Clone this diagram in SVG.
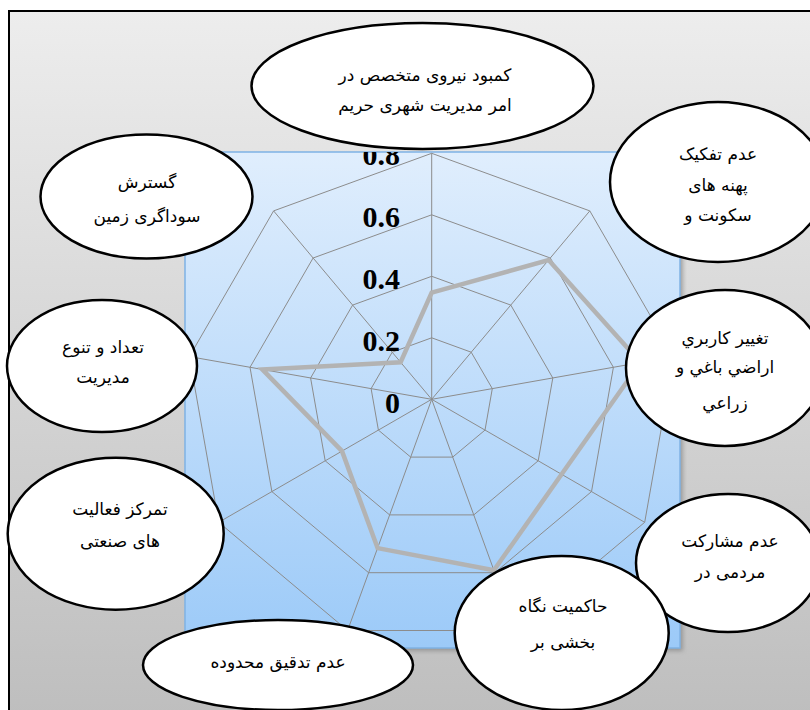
<svg xmlns="http://www.w3.org/2000/svg" width="810" height="710" viewBox="0 0 810 710">
<defs>
<linearGradient id="bg" x1="0" y1="0" x2="0" y2="1">
<stop offset="0" stop-color="#ededed"/>
<stop offset="1" stop-color="#bdbdbd"/>
</linearGradient>
<linearGradient id="plot" x1="0" y1="0" x2="0" y2="1">
<stop offset="0" stop-color="#e0eefd"/>
<stop offset="1" stop-color="#9ccaf8"/>
</linearGradient>
<filter id="sh" x="-5%" y="-5%" width="115%" height="115%">
<feGaussianBlur stdDeviation="2"/>
</filter>
<clipPath id="plotclip">
<rect x="185" y="152" width="495" height="496"/>
</clipPath>
<style>
.grid{fill:none;stroke:#8c8c8c;stroke-width:1}
.data{fill:none;stroke:#b3b3b3;stroke-width:4.5;stroke-linejoin:miter}
.node ellipse{fill:#ffffff;stroke:#000000;stroke-width:2.5}
.node text{font-family:"DejaVu Sans","Liberation Sans",sans-serif;font-size:17px;fill:#000000;text-anchor:middle}
.tick{font-family:"Liberation Serif","Times New Roman",serif;font-size:30px;font-weight:bold;fill:#000000;text-anchor:end}
</style>
</defs>

<rect x="9" y="11" width="830" height="720" fill="url(#bg)" stroke="#000000" stroke-width="2"/>

<g id="chart">
<rect x="188" y="155" width="495" height="496" fill="#7a7a7a" opacity="0.6" filter="url(#sh)"/>
<rect x="185" y="152" width="495" height="496" fill="url(#plot)" stroke="#7fb2e5" stroke-width="1.5"/>
<g id="rings" class="grid">
<polygon points="431.7,337.8 471.2,352.2 492.3,388.6 485.0,430.1 452.7,457.1 410.7,457.1 378.4,430.1 371.1,388.6 392.2,352.2"/>
<polygon points="431.7,276.3 510.8,305.1 552.8,378.0 538.2,460.8 473.8,514.9 389.6,514.9 325.2,460.8 310.6,378.0 352.6,305.1"/>
<polygon points="431.7,214.8 550.3,258.0 613.4,367.3 591.5,491.6 494.8,572.7 368.6,572.7 271.9,491.6 250.0,367.3 313.1,258.0"/>
<polygon points="431.7,153.3 589.8,210.9 674.0,356.6 644.7,522.3 515.8,630.5 347.6,630.5 218.7,522.3 189.4,356.6 273.6,210.9"/>
</g>
<g id="axes" class="grid">
<line x1="431.7" y1="399.3" x2="431.7" y2="153.3"/>
<line x1="431.7" y1="399.3" x2="589.8" y2="210.9"/>
<line x1="431.7" y1="399.3" x2="674.0" y2="356.6"/>
<line x1="431.7" y1="399.3" x2="644.7" y2="522.3"/>
<line x1="431.7" y1="399.3" x2="515.8" y2="630.5"/>
<line x1="431.7" y1="399.3" x2="347.6" y2="630.5"/>
<line x1="431.7" y1="399.3" x2="218.7" y2="522.3"/>
<line x1="431.7" y1="399.3" x2="189.4" y2="356.6"/>
<line x1="431.7" y1="399.3" x2="273.6" y2="210.9"/>
</g>
<polygon id="series" class="data" points="431.7,292.7 548.6,260.0 640.5,362.5 561.6,474.3 493.9,570.3 377.6,548.1 342.0,451.1 262.3,369.4 400.6,362.2"/>
<g id="ticks" clip-path="url(#plotclip)">
<text class="tick" x="400" y="413">0</text>
<text class="tick" x="400" y="351">0.2</text>
<text class="tick" x="400" y="289">0.4</text>
<text class="tick" x="400" y="227">0.6</text>
<text class="tick" x="400" y="165">0.8</text>
</g>
</g>

<g id="n1" class="node">
<ellipse cx="422.5" cy="86" rx="171" ry="63"/>
<text x="425" y="81">کمبود نیروی متخصص در</text>
<text x="425" y="111">امر مدیریت شهری حریم</text>
</g>
<g id="n9" class="node">
<ellipse cx="146.5" cy="196.5" rx="106" ry="62"/>
<text x="147" y="188">گسترش</text>
<text x="147" y="222">سوداگری زمین</text>
</g>
<g id="n8" class="node">
<ellipse cx="102" cy="366" rx="95" ry="66"/>
<text x="103" y="353">تعداد و تنوع</text>
<text x="103" y="383">مدیریت</text>
</g>
<g id="n7" class="node">
<ellipse cx="115.7" cy="533.7" rx="108" ry="76"/>
<text x="120" y="515">تمرکز فعالیت</text>
<text x="120" y="547">های صنعتی</text>
</g>
<g id="n6" class="node">
<ellipse cx="278" cy="665" rx="135" ry="45"/>
<text x="278" y="668">عدم تدقیق محدوده</text>
</g>
<g id="n2" class="node">
<ellipse cx="718" cy="182" rx="108" ry="80"/>
<text x="718" y="160">عدم تفکیک</text>
<text x="718" y="191">پهنه های</text>
<text x="718" y="221">سکونت و</text>
</g>
<g id="n3" class="node">
<ellipse cx="725" cy="368" rx="99" ry="78"/>
<text x="725" y="344">تغییر کاربري</text>
<text x="725" y="373">اراضي باغي و</text>
<text x="725" y="409">زراعي</text>
</g>
<g id="n4" class="node">
<ellipse cx="728" cy="563" rx="92" ry="69"/>
<text x="730" y="547">عدم مشارکت</text>
<text x="730" y="578">مردمی در</text>
</g>
<g id="n5" class="node">
<ellipse cx="561.7" cy="633" rx="107" ry="77"/>
<text x="563" y="612">حاکمیت نگاه</text>
<text x="563" y="648">بخشی بر</text>
</g>
</svg>
